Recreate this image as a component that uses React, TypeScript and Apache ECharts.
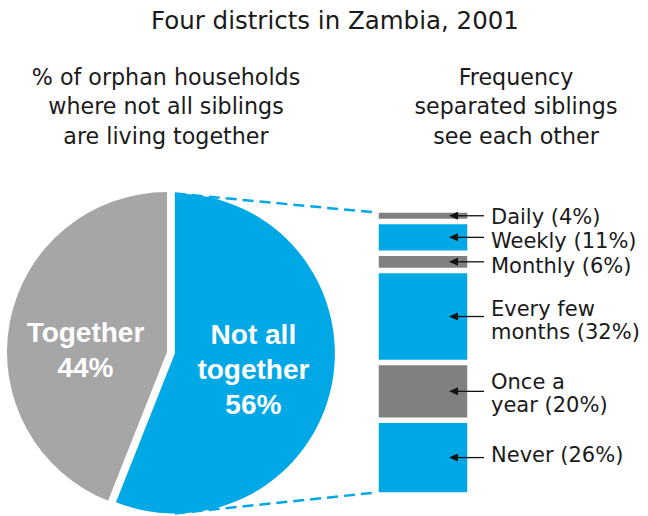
import React, { useEffect, useRef } from 'react';
import * as echarts from 'echarts';

// ---------- data ----------
const TITLE = 'Four districts in Zambia, 2001';
const PIE_SUBTITLE = ['% of orphan households', 'where not all siblings', 'are living together'];
const BAR_SUBTITLE = ['Frequency', 'separated siblings', 'see each other'];

const pieNames = ['Not all\ntogether', 'Together'];
const pieValues = [56, 44];

const freqLabels = ['Daily', 'Weekly', 'Monthly', 'Every few\nmonths', 'Once a\nyear', 'Never'];
const freqValues = [4, 11, 6, 32, 20, 26];

// ---------- styles / layout ----------
const BLUE = '#00a8e6';
const PIE_GREY = '#a6a6a6';
const BAR_GREY = '#808080';
const TEXT = '#1a1a1a';
const pieColors = [BLUE, PIE_GREY];
const freqColors = [BAR_GREY, BLUE, BAR_GREY, BLUE, BAR_GREY, BLUE];
// small vertical nudges of the annotation texts (px), as in the reference
const freqLabelNudge = [1, 4, 4, 4, 2, -2.5];

const FONT = 'DejaVu Sans';
const BOLD_FONT = 'Liberation Sans';

const PIE_CX = 167;
const PIE_CY = 352;
const PIE_R = 160;
const PIE_OFFSET = 8;

const GRID_LEFT = 376;
const GRID_TOP = 210;
const GRID_W = 94;
const GRID_H = 285;
const SEG_GAP = 5.5; // visible white gap between segments
const SEG_BORDER = SEG_GAP / 2; // ECharts insets bars by the border width

export default function App() {
  const ref = useRef<HTMLDivElement>(null);

  useEffect(() => {
    if (!ref.current) return;
    const chart = echarts.init(ref.current, undefined, { renderer: 'svg' });

    const total = freqValues.reduce((a, b) => a + b, 0);
    const mids: number[][] = [];
    let acc = 0;
    freqValues.forEach((v) => {
      mids.push([0, acc + v / 2]);
      acc += v;
    });

    // offset direction of the selected (first) slice
    const pieTotal = pieValues.reduce((a, b) => a + b, 0);
    const midDeg = 90 - ((pieValues[0] / pieTotal) * 360) / 2;
    const midRad = (midDeg * Math.PI) / 180;
    const odx = PIE_OFFSET * Math.cos(midRad);
    const ody = -PIE_OFFSET * Math.sin(midRad);

    const barSeries = freqValues.map((v, i) => ({
      type: 'bar',
      name: freqLabels[i],
      stack: 'freq',
      xAxisIndex: 0,
      yAxisIndex: 0,
      barWidth: '100%',
      silent: true,
      data: [v],
      itemStyle: { color: freqColors[i], borderColor: '#ffffff', borderWidth: SEG_BORDER },
      label: {
        show: true,
        position: 'right',
        distance: 21,
        offset: [0, freqLabelNudge[i]],
        formatter: () => `${freqLabels[i]} (${v}%)`,
        color: TEXT,
        fontFamily: FONT,
        fontSize: 21,
        lineHeight: freqLabels[i].includes('\n') ? 23.5 : 21,
        align: 'left',
      },
      emphasis: { disabled: true },
    }));

    const option: any = {
      animation: false,
      title: {
        text: TITLE,
        left: 146,
        top: 3,
        textStyle: { fontFamily: FONT, fontSize: 24.5, fontWeight: 'normal', color: TEXT },
      },
      grid: { left: GRID_LEFT, top: GRID_TOP, width: GRID_W, height: GRID_H, containLabel: false },
      xAxis: { type: 'category', data: ['Frequency'], show: false },
      yAxis: { type: 'value', min: 0, max: total, inverse: true, show: false },
      graphic: [
        {
          type: 'text',
          x: 166,
          y: 106,
          z: 10,
          style: {
            text: PIE_SUBTITLE.join('\n'),
            fontFamily: FONT,
            fontSize: 22.2,
            lineHeight: 29.5,
            fill: TEXT,
            textAlign: 'center',
            textVerticalAlign: 'middle',
          },
        },
        {
          type: 'text',
          x: 516,
          y: 106,
          z: 10,
          style: {
            text: BAR_SUBTITLE.join('\n'),
            fontFamily: FONT,
            fontSize: 22.2,
            lineHeight: 29.5,
            fill: TEXT,
            textAlign: 'center',
            textVerticalAlign: 'middle',
          },
        },
        {
          type: 'line',
          z: 0,
          shape: {
            x1: PIE_CX + odx,
            y1: PIE_CY + ody - PIE_R,
            x2: GRID_LEFT + SEG_GAP / 2,
            y2: GRID_TOP + SEG_GAP / 2,
          },
          style: { stroke: BLUE, lineWidth: 2.5, lineDash: [11, 6] },
        },
        {
          type: 'line',
          z: 0,
          shape: {
            x1: PIE_CX + odx,
            y1: PIE_CY + ody + PIE_R,
            x2: GRID_LEFT + SEG_GAP / 2,
            y2: GRID_TOP + GRID_H - SEG_GAP / 2,
          },
          style: { stroke: BLUE, lineWidth: 2.5, lineDash: [11, 6] },
        },
      ],
      series: [
        {
          type: 'pie',
          z: 5,
          center: [PIE_CX, PIE_CY],
          radius: PIE_R,
          startAngle: 90,
          clockwise: true,
          selectedMode: 'single',
          selectedOffset: PIE_OFFSET,
          silent: true,
          emphasis: { disabled: true },
          labelLine: { show: false },
          label: {
            show: true,
            position: 'inside',
            formatter: (p: any) => `${pieNames[p.dataIndex]}\n${p.value}%`,
            color: '#ffffff',
            fontFamily: BOLD_FONT,
            fontWeight: 'bold',
            fontSize: 28,
            lineHeight: 35,
          },
          labelLayout: (p: any) => (p.dataIndex === 1 ? { dy: 14 } : { dx: -3 }),
          data: pieValues.map((v, i) => ({
            name: pieNames[i],
            value: v,
            selected: i === 0,
            itemStyle: { color: pieColors[i], borderWidth: 0 },
            select: { itemStyle: { color: pieColors[i], borderWidth: 0 } },
          })),
        },
        ...barSeries,
        {
          type: 'custom',
          xAxisIndex: 0,
          yAxisIndex: 0,
          silent: true,
          z: 10,
          data: mids,
          encode: { x: 0, y: 1 },
          renderItem: (params: any, api: any) => {
            const p = api.coord([api.value(0), api.value(1)]);
            const tip = p[0] + 26;
            const y = p[1];
            return {
              type: 'group',
              children: [
                {
                  type: 'line',
                  shape: { x1: tip + 4, y1: y, x2: tip + 35, y2: y },
                  style: { stroke: '#111111', lineWidth: 1.3 },
                },
                {
                  type: 'polygon',
                  shape: { points: [[tip, y], [tip + 9, y - 4], [tip + 9, y + 4]] },
                  style: { fill: '#111111' },
                },
              ],
            };
          },
        },
      ],
    };

    chart.setOption(option);
    return () => chart.dispose();
  }, []);

  return (
    <div
      ref={ref}
      style={{ position: 'absolute', left: 0, top: 0, width: 648, height: 516, background: '#ffffff' }}
    />
  );
}
